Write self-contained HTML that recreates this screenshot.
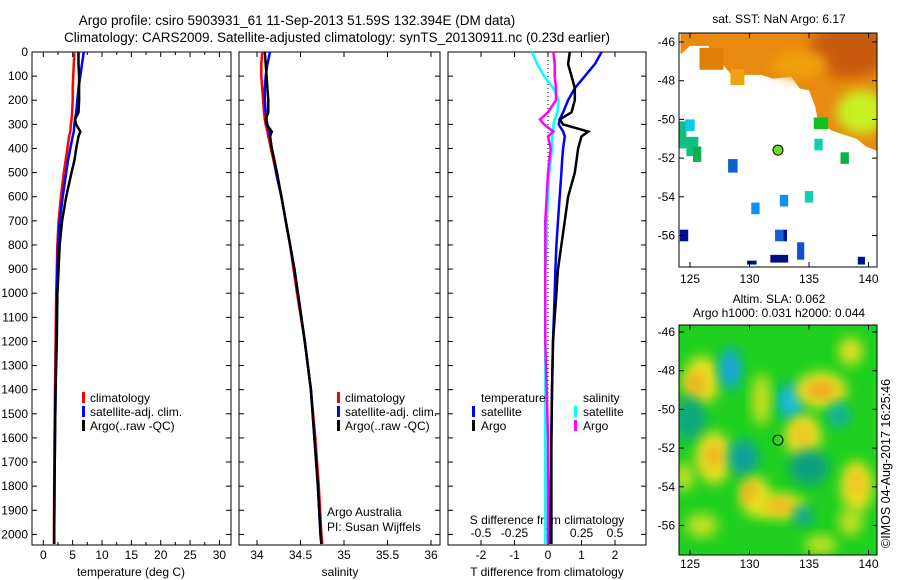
<!DOCTYPE html>
<html><head><meta charset="utf-8">
<style>
body{margin:0;background:#fff;}
svg{display:block;font-family:"Liberation Sans",sans-serif;}
text{font-size:12px;fill:#000;}
</style></head>
<body>
<svg id="fig" width="900" height="580" viewBox="0 0 900 580">
<defs>
<filter id="blur6" x="-30%" y="-30%" width="160%" height="160%"><feGaussianBlur stdDeviation="6"/></filter>
<clipPath id="clipTop"><rect x="679" y="33" width="198" height="234"/></clipPath>
<clipPath id="clipBot"><rect x="679" y="325" width="198" height="230"/></clipPath>
</defs>
<text x="297" y="25" text-anchor="middle" style="font-size:13.5px">Argo profile: csiro 5903931_61 11-Sep-2013 51.59S 132.394E (DM data)</text>
<text x="337" y="42" text-anchor="middle" style="font-size:13.5px">Climatology: CARS2009. Satellite-adjusted climatology: synTS_20130911.nc (0.23d earlier)</text>
<g id="panels"></g>
<g id="maps"></g>
<text transform="translate(890,548) rotate(-90)" style="font-size:12.5px">©IMOS 04-Aug-2017 16:25:46</text>
</svg>
<script>
// ---------- data ----------
const depths = [0,50,100,150,200,250,280,300,330,350,400,450,500,600,700,800,900,1000,1200,1400,1600,1800,2000,2040];
const tempClim = [5.3,5.2,5.1,5.0,5.0,4.9,4.8,4.7,4.6,4.4,4.1,3.8,3.5,3.0,2.6,2.4,2.3,2.2,2.1,2.0,1.9,1.85,1.8,1.8];
const tempSat  = [6.9,6.6,6.3,6.0,5.8,5.6,5.4,5.3,5.2,5.0,4.6,4.2,3.9,3.3,2.8,2.5,2.4,2.3,2.2,2.1,2.0,1.9,1.85,1.85];
const tempArgo = [6.0,6.0,6.1,6.1,6.1,6.0,5.4,5.6,6.3,6.0,5.6,5.3,4.8,3.9,3.2,2.8,2.6,2.4,2.3,2.1,2.0,1.9,1.85,1.85];
const salClim  = [34.06,34.05,34.05,34.06,34.07,34.08,34.09,34.10,34.12,34.13,34.16,34.19,34.22,34.28,34.33,34.38,34.42,34.46,34.55,34.62,34.67,34.71,34.74,34.75];
const salSat   = [34.15,34.12,34.10,34.09,34.09,34.10,34.11,34.12,34.14,34.15,34.17,34.20,34.22,34.28,34.33,34.38,34.43,34.47,34.55,34.62,34.66,34.70,34.73,34.74];
const salArgo  = [34.09,34.10,34.11,34.12,34.13,34.13,34.10,34.11,34.17,34.15,34.17,34.20,34.23,34.28,34.33,34.38,34.43,34.47,34.55,34.62,34.66,34.70,34.73,34.74];
const tDiffSat  = [1.6,1.4,1.1,0.8,0.6,0.45,0.35,0.32,0.45,0.5,0.45,0.42,0.4,0.35,0.3,0.25,0.22,0.2,0.15,0.12,0.1,0.08,0.06,0.06];
const tDiffArgo = [0.65,0.6,0.7,0.8,0.8,0.7,0.35,0.45,1.2,1.0,0.9,0.85,0.8,0.6,0.5,0.4,0.3,0.25,0.15,0.12,0.1,0.1,0.1,0.1];
const sDiffSat  = [-0.12,-0.08,-0.03,0.04,0.08,0.07,0.05,0.04,0.04,0.03,0.03,0.02,0.01,0.0,-0.01,-0.01,-0.02,-0.02,-0.02,-0.02,-0.02,-0.02,-0.02,-0.02];
const sDiffArgo = [0.04,0.05,0.05,0.06,0.06,0.0,-0.06,-0.03,0.04,0.0,0.02,0.01,0.0,-0.01,-0.02,-0.02,-0.02,-0.02,-0.02,-0.01,0.0,0.0,0.0,0.0];
const depthTicks = [0,100,200,300,400,500,600,700,800,900,1000,1100,1200,1300,1400,1500,1600,1700,1800,1900,2000];
const tempTicks = [0,5,10,15,20,25,30];
const tempMinorTicks = [2.5,7.5,12.5,17.5,22.5,27.5];
const salTicks = [34,34.5,35,35.5,36];
const tDiffTicks = [-2,-1,0,1,2];
const sDiffTicks = [-0.5,-0.25,0,0.25,0.5];
const sDiffTickLabels = ["-0.5","-0.25","0","0.25","0.5"];
const latTicks = [-46,-48,-50,-52,-54,-56];
const lonTicks = [125,130,135,140];
const argoLon = 132.394, argoLat = -51.59;

// ---------- helpers ----------
const NS="http://www.w3.org/2000/svg";
function mk(tag,attrs,parent){const e=document.createElementNS(NS,tag);for(const k in attrs)e.setAttribute(k,attrs[k]);parent.appendChild(e);return e;}
const yD = d => 52 + d*0.2412;
const xT = v => 43.3 + v*5.87;
const xS = v => 257 + (v-34)*87;
const xTD = v => 548 + v*33.5;
const xSD = v => 548 + v*134;
const panels=document.getElementById('panels');

function frame(x0,x1,name){
  const r=mk('rect',{x:x0,y:52,width:x1-x0,height:493,fill:'none',stroke:'#000','stroke-width':1},panels);
  
  
  depthTicks.forEach(d=>{mk('line',{x1:x0,x2:x0+5,y1:yD(d),y2:yD(d),stroke:'#000'},panels);mk('line',{x1:x1-5,x2:x1,y1:yD(d),y2:yD(d),stroke:'#000'},panels);});
}
function xticks(ticks,fx,labels,y,name){
  ticks.forEach((t,i)=>{const x=fx(t);
    mk('line',{x1:x,x2:x,y1:545,y2:540,stroke:'#000'},panels);
    mk('line',{x1:x,x2:x,y1:52,y2:57,stroke:'#000'},panels);
    const tx=mk('text',{x:x,y:y,'text-anchor':'middle'},panels);tx.textContent=labels?labels[i]:String(t);
    
    });
}
function minor(ticks,fx){ticks.forEach(t=>{const x=fx(t);mk('line',{x1:x,x2:x,y1:545,y2:542,stroke:'#000'},panels);mk('line',{x1:x,x2:x,y1:52,y2:55,stroke:'#000'},panels);});}
function line(vals,fx,color,name){
  let p='';depths.forEach((d,i)=>{p+=(i?'L':'M')+fx(vals[i]).toFixed(1)+','+yD(d).toFixed(1);});
  const e=mk('path',{d:p,fill:'none',stroke:color,'stroke-width':2.5},panels);
  
  
}
function label(x,y,s,name,anchor){const t=mk('text',{x:x,y:y,'text-anchor':anchor||'start'},panels);t.textContent=s;
  
  return t;}
function legbar(x,y,color,name){const r=mk('rect',{x:x,y:y-10,width:3,height:11,fill:color},panels);
  
  }

// panel 1 temperature
frame(32,231,'temperature-panel');
depthTicks.forEach(d=>{const t=mk('text',{x:28,y:yD(d)+4,'text-anchor':'end'},panels);t.textContent=d;
  
  });
xticks(tempTicks,xT,null,559,'temperature-tick-label');
minor(tempMinorTicks,xT);
label(131,576,'temperature (deg C)','temperature-axis-title','middle');
line(tempClim,xT,'#f00','temp-climatology-line');
line(tempSat,xT,'#00f','temp-satellite-line');
line(tempArgo,xT,'#000','temp-argo-line');
[['#f00','climatology'],['#00f','satellite-adj. clim.'],['#000','Argo(..raw -QC)']].forEach((c,i)=>{legbar(82,402+i*14,c[0],'legend-swatch');label(90,402+i*14,c[1],'legend-entry');});

// panel 2 salinity
frame(239,440,'salinity-panel');
xticks(salTicks,xS,null,559,'salinity-tick-label');
label(340,576,'salinity','salinity-axis-title','middle');
line(salClim,xS,'#f00','sal-climatology-line');
line(salSat,xS,'#00f','sal-satellite-line');
line(salArgo,xS,'#000','sal-argo-line');
[['#f00','climatology'],['#00f','satellite-adj. clim.'],['#000','Argo(..raw -QC)']].forEach((c,i)=>{legbar(337,402+i*14,c[0],'legend-swatch');label(345,402+i*14,c[1],'legend-entry');});
label(327,516,'Argo Australia','argo-australia-label');
label(327,531,'PI: Susan Wijffels','pi-label');

// panel 3 differences
frame(448,646,'difference-panel');
xticks(tDiffTicks,xTD,null,559,'tdiff-tick-label');
sDiffTicks.forEach((t,i)=>{label(xSD(t),537,sDiffTickLabels[i],'sdiff-tick-label','middle');});
label(547,524,'S difference from climatology','sdiff-axis-title','middle');
label(547,576,'T difference from climatology','tdiff-axis-title','middle');
mk('line',{x1:xTD(0),x2:xTD(0),y1:52,y2:545,stroke:'#000','stroke-dasharray':'1,3'},panels);
line(sDiffSat,xSD,'#0ff','sdiff-satellite-line');
line(sDiffArgo,xSD,'#f0f','sdiff-argo-line');
line(tDiffSat,xTD,'#00f','tdiff-satellite-line');
line(tDiffArgo,xTD,'#000','tdiff-argo-line');
label(481,402,'temperature','legend-header-temperature');
label(583,402,'salinity','legend-header-salinity');
legbar(472,416,'#00f','legend-swatch');label(481,416,'satellite','legend-entry');
legbar(472,430,'#000','legend-swatch');label(481,430,'Argo','legend-entry');
legbar(574,416,'#0ff','legend-swatch');label(583,416,'satellite','legend-entry');
legbar(574,430,'#f0f','legend-swatch');label(583,430,'Argo','legend-entry');

// ---------- maps ----------
const maps=document.getElementById('maps');
const mx = lon => 690 + (lon-125)*11.9;
const myT = lat => 42 + (-46-lat)*19.35;
const myB = lat => 332 + (-46-lat)*19.35;
function mapFrame(y0,h,fy,name,lonY){
  const r=mk('rect',{x:679,y:y0,width:198,height:h,fill:'none',stroke:'#000'},maps);
  
  
  latTicks.forEach(l=>{const y=fy(l);mk('line',{x1:679,x2:684,y1:y,y2:y,stroke:'#000'},maps);mk('line',{x1:872,x2:877,y1:y,y2:y,stroke:'#000'},maps);
    const t=mk('text',{x:675,y:y+4,'text-anchor':'end'},maps);t.textContent=l;
    
    });
  lonTicks.forEach(l=>{const x=mx(l);mk('line',{x1:x,x2:x,y1:y0,y2:y0+5,stroke:'#000'},maps);mk('line',{x1:x,x2:x,y1:y0+h-5,y2:y0+h,stroke:'#000'},maps);
    const t=mk('text',{x:x,y:lonY,'text-anchor':'middle'},maps);t.textContent=l;
    
    });
}
// top SST map
const gT=mk('g',{'clip-path':'url(#clipTop)'},maps);


const sstOutline=[[124.2,-45.5],[141,-45.5],[141,-51.7],[139.8,-51.4],[139,-51],[138,-50.8],[137,-50.6],[135.8,-50.2],[135.5,-49.3],[135,-48.5],[134.2,-48.4],[133.5,-47.8],[132,-47.9],[131,-47.7],[128.5,-47.7],[127.8,-47.2],[126.6,-47],[126.6,-46.2],[125,-46.2],[124.3,-46.6],[124.2,-46.6]];
let sp='';sstOutline.forEach((p,i)=>{sp+=(i?'L':'M')+mx(p[0]).toFixed(1)+','+myT(p[1]).toFixed(1);});
mk('path',{d:sp+'Z',fill:'#e88a10'},gT);
mk('rect',{x:mx(125.8),y:myT(-46.3),width:24,height:22,fill:'#e07f08'},gT);
mk('rect',{x:mx(128.4),y:myT(-47.4),width:14,height:16,fill:'#f0a010'},gT);
mk('ellipse',{cx:850,cy:50,rx:40,ry:28,fill:'#c85a08',filter:'url(#blur6)'},gT);
mk('ellipse',{cx:800,cy:65,rx:28,ry:14,fill:'#f0a010',filter:'url(#blur6)'},gT);
mk('ellipse',{cx:862,cy:112,rx:26,ry:22,fill:'#c8f020',filter:'url(#blur6)'},gT);
[[124.2,-50.8,1,1.4,'#10c080'],[125,-50.3,0.8,0.6,'#10c8f0'],[125.2,-51.4,1,1,'#10c080'],[125.6,-51.8,0.7,0.8,'#10b050'],
 [128.6,-52.4,0.8,0.7,'#1060d0'],[130.5,-54.6,0.7,0.6,'#1090f0'],[132.9,-54.2,0.7,0.6,'#1090f0'],[135,-54,0.7,0.6,'#10d0b0'],
 [135.8,-51.3,0.7,0.6,'#10d0b0'],[136,-50.2,1.2,0.6,'#10c020'],[138,-52,0.7,0.6,'#10b040'],
 [124.5,-56,0.7,0.6,'#001090'],[132.5,-56,0.7,0.6,'#1060d0'],[133,-56,0.3,0.6,'#001090'],[134.3,-56.8,0.6,0.9,'#1050d0'],
 [132.5,-57.2,1.5,0.4,'#001080'],[130.2,-57.4,0.8,0.2,'#001080'],[139.4,-57.3,0.6,0.4,'#001090']].forEach(b=>{
  mk('rect',{x:mx(b[0]-b[2]/2),y:myT(b[1]+b[3]/2),width:b[2]*11.9,height:b[3]*19.35,fill:b[4]},gT);});
mapFrame(33,234,myT,'sst-map-frame',283);
const dT=mk('circle',{cx:mx(argoLon),cy:myT(argoLat),r:5,fill:'#70e020',stroke:'#000'},maps);


label(779,23,'sat. SST: NaN Argo: 6.17','sst-map-title','middle');

// bottom SLA map
const gB=mk('g',{'clip-path':'url(#clipBot)'},maps);


mk('rect',{x:679,y:325,width:198,height:230,fill:'#20d020'},gB);
const blobs=[[126,-48.5,18,24,'#e8e020'],[125.5,-48.7,10,12,'#f0b020'],[128.4,-47.9,12,22,'#10b0b0'],[128.4,-47.9,6,12,'#20a0f0'],
 [133.5,-49.6,15,20,'#10b0b0'],[133.5,-49.6,8,10,'#20c0f0'],[136,-49,26,18,'#e8e020'],[136,-49,15,8,'#f0a020'],
 [125,-50.5,16,22,'#10a880'],[127,-52.5,18,26,'#e8e020'],[127,-52.4,9,12,'#f0b020'],[129.5,-52.5,15,18,'#10a0a0'],
 [134.5,-51.4,18,22,'#e8e020'],[134.5,-51.3,9,12,'#f0c020'],[137.5,-50.3,12,12,'#10b0a0'],[130.5,-54.5,15,20,'#e8e020'],
 [130,-54.3,8,11,'#f0b020'],[132.5,-55,26,13,'#e8e020'],[132.5,-55,13,7,'#f0b020'],[135,-53,20,18,'#10a080'],
 [139,-54,16,26,'#e8e020'],[139,-53.8,8,12,'#f0c020'],[131,-49.5,10,26,'#c0e020'],[138.5,-47,12,14,'#e0e020'],
 [134.5,-55.5,10,10,'#10a0a0'],[126,-56,16,12,'#c0e020'],[136,-57,16,10,'#c0e020'],[124.5,-53.5,10,14,'#c0e020'],[138.5,-55.8,12,14,'#c0e020']];
blobs.forEach(b=>{mk('ellipse',{cx:mx(b[0]),cy:myB(b[1]),rx:b[2],ry:b[3],fill:b[4],filter:'url(#blur6)'},gB);});
mapFrame(325,230,myB,'sla-map-frame',568);
const dB=mk('circle',{cx:mx(argoLon),cy:myB(argoLat),r:5,fill:'none',stroke:'#000'},maps);


const t1=mk('text',{x:779,y:303,'text-anchor':'middle'},maps);t1.textContent='Altim. SLA: 0.062';


const t2=mk('text',{x:779,y:317,'text-anchor':'middle'},maps);t2.textContent='Argo h1000: 0.031 h2000: 0.044';


</script>
</body></html>
